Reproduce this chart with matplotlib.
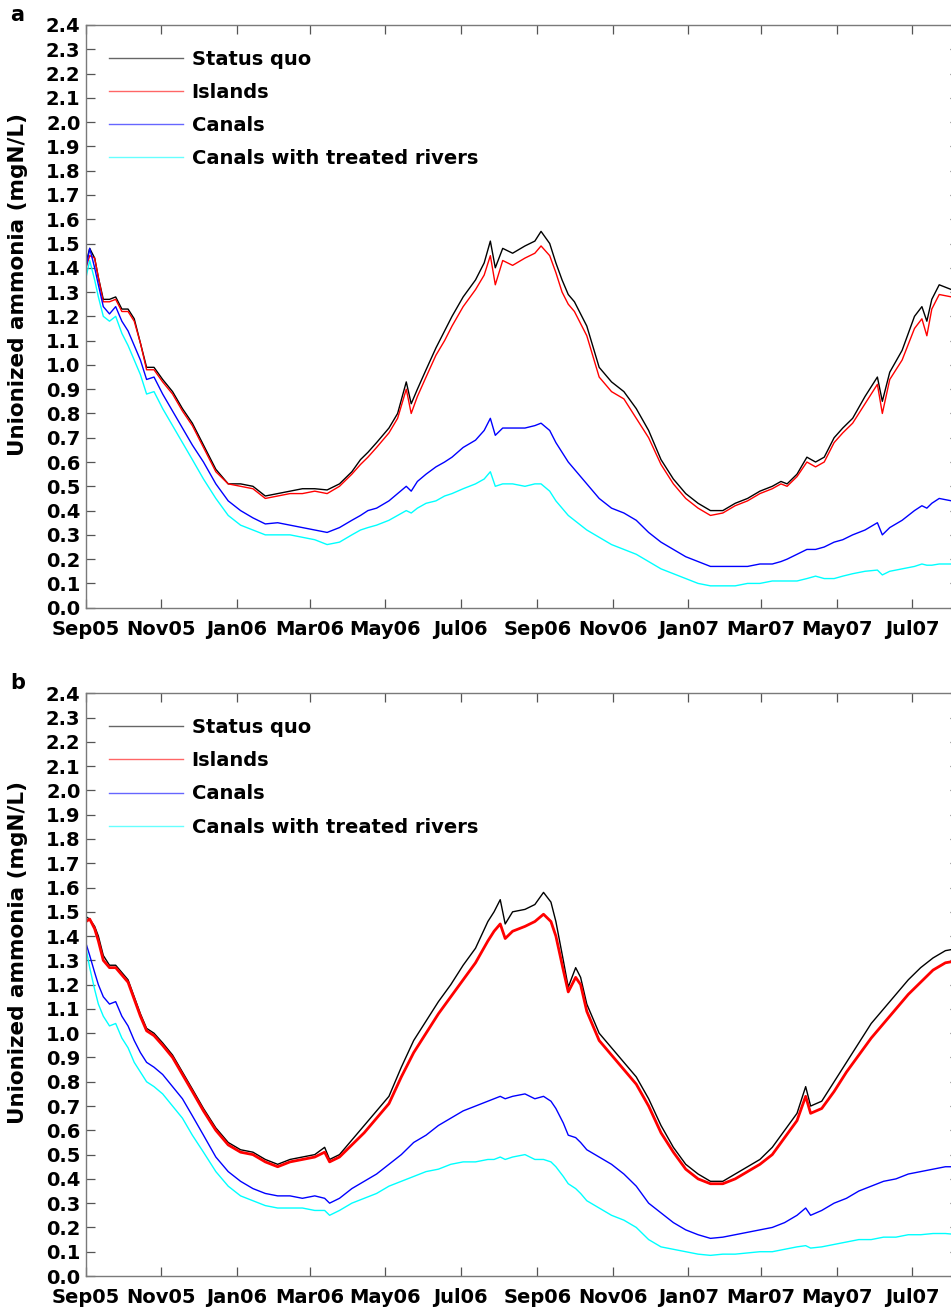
import datetime as dt
import matplotlib
matplotlib.use("Agg")
import matplotlib.pyplot as plt
import matplotlib.dates as mdates
from matplotlib.ticker import MultipleLocator, FormatStrFormatter

START = dt.date(2005, 9, 1)
END_DAY = 706

# panel a: days after 1 Sep 2005 and unionized ammonia (mgN/L)
days_a = [0, 3, 7, 10, 14, 19, 24, 29, 34, 39, 44, 49, 55, 62, 70, 78, 86, 95, 105, 115,
          125, 135, 145, 155, 165, 175, 185, 195, 205, 215, 222, 228, 235, 245, 252, 259, 263, 268, 275, 283,
          290, 296, 305, 315, 322, 327, 331, 337, 345, 355, 363, 368, 375, 380, 385, 390, 395, 405, 415, 425,
          435, 445, 455, 465, 475, 485, 495, 505, 515, 525, 535, 545, 555, 562, 567, 575, 583, 590, 597, 605,
          612, 620, 630, 640, 644, 650, 660, 670, 676, 680, 684, 690, 700, 706]
status_quo_a = [1.42, 1.48, 1.44, 1.36, 1.27, 1.27, 1.28, 1.23, 1.23, 1.19, 1.09, 0.99, 0.99, 0.94, 0.89, 0.82, 0.76, 0.67, 0.57, 0.51,
                0.51, 0.50, 0.46, 0.47, 0.48, 0.49, 0.49, 0.485, 0.51, 0.56, 0.61, 0.64, 0.68, 0.74, 0.80, 0.93, 0.84, 0.90, 0.98, 1.07,
                1.14, 1.20, 1.28, 1.35, 1.42, 1.51, 1.40, 1.48, 1.46, 1.49, 1.51, 1.55, 1.50, 1.42, 1.35, 1.29, 1.26, 1.16, 0.99, 0.93,
                0.89, 0.82, 0.73, 0.61, 0.53, 0.47, 0.43, 0.40, 0.40, 0.43, 0.45, 0.48, 0.50, 0.52, 0.51, 0.55, 0.62, 0.60, 0.62, 0.70,
                0.74, 0.78, 0.87, 0.95, 0.85, 0.97, 1.06, 1.20, 1.24, 1.18, 1.27, 1.33, 1.31, 1.30]
islands_a = [1.40, 1.45, 1.44, 1.36, 1.26, 1.26, 1.27, 1.22, 1.22, 1.18, 1.09, 0.98, 0.98, 0.93, 0.88, 0.81, 0.75, 0.66, 0.56, 0.51,
             0.50, 0.49, 0.45, 0.46, 0.47, 0.47, 0.48, 0.47, 0.50, 0.55, 0.59, 0.62, 0.66, 0.72, 0.78, 0.90, 0.80, 0.87, 0.95, 1.04,
             1.10, 1.16, 1.24, 1.31, 1.37, 1.45, 1.33, 1.43, 1.41, 1.44, 1.46, 1.49, 1.45, 1.38, 1.30, 1.25, 1.22, 1.12, 0.95, 0.89,
             0.86, 0.78, 0.70, 0.59, 0.51, 0.45, 0.41, 0.38, 0.39, 0.42, 0.44, 0.47, 0.49, 0.51, 0.50, 0.54, 0.60, 0.58, 0.60, 0.68,
             0.72, 0.76, 0.84, 0.92, 0.80, 0.94, 1.02, 1.15, 1.19, 1.12, 1.23, 1.29, 1.28, 1.27]
canals_a = [1.40, 1.48, 1.40, 1.33, 1.24, 1.21, 1.24, 1.18, 1.14, 1.08, 1.02, 0.94, 0.95, 0.88, 0.81, 0.74, 0.67, 0.60, 0.51, 0.44,
            0.40, 0.37, 0.345, 0.35, 0.34, 0.33, 0.32, 0.31, 0.33, 0.36, 0.38, 0.40, 0.41, 0.44, 0.47, 0.50, 0.48, 0.52, 0.55, 0.58,
            0.60, 0.62, 0.66, 0.69, 0.73, 0.78, 0.71, 0.74, 0.74, 0.74, 0.75, 0.76, 0.73, 0.68, 0.64, 0.60, 0.57, 0.51, 0.45, 0.41,
            0.39, 0.36, 0.31, 0.27, 0.24, 0.21, 0.19, 0.17, 0.17, 0.17, 0.17, 0.18, 0.18, 0.19, 0.20, 0.22, 0.24, 0.24, 0.25, 0.27,
            0.28, 0.30, 0.32, 0.35, 0.30, 0.33, 0.36, 0.40, 0.42, 0.41, 0.43, 0.45, 0.44, 0.44]
treated_a = [1.36, 1.43, 1.35, 1.28, 1.20, 1.18, 1.20, 1.13, 1.08, 1.02, 0.96, 0.88, 0.89, 0.82, 0.75, 0.68, 0.61, 0.53, 0.45, 0.38,
             0.34, 0.32, 0.30, 0.30, 0.30, 0.29, 0.28, 0.26, 0.27, 0.30, 0.32, 0.33, 0.34, 0.36, 0.38, 0.40, 0.39, 0.41, 0.43, 0.44,
             0.46, 0.47, 0.49, 0.51, 0.53, 0.56, 0.50, 0.51, 0.51, 0.50, 0.51, 0.51, 0.48, 0.44, 0.41, 0.38, 0.36, 0.32, 0.29, 0.26,
             0.24, 0.22, 0.19, 0.16, 0.14, 0.12, 0.10, 0.09, 0.09, 0.09, 0.10, 0.10, 0.11, 0.11, 0.11, 0.11, 0.12, 0.13, 0.12, 0.12,
             0.13, 0.14, 0.15, 0.155, 0.135, 0.15, 0.16, 0.17, 0.18, 0.175, 0.175, 0.18, 0.18, 0.18]

# panel b
days_b = [0, 3, 7, 10, 14, 19, 24, 29, 34, 39, 44, 49, 55, 62, 70, 78, 86, 95, 105, 115,
          125, 135, 145, 155, 165, 175, 185, 193, 197, 205, 215, 225, 235, 245, 255, 265, 275, 285, 295, 305,
          315, 325, 330, 335, 339, 345, 355, 363, 370, 376, 380, 386, 390, 396, 400, 405, 415, 425, 435, 445,
          455, 465, 475, 485, 495, 505, 515, 525, 535, 545, 555, 565, 575, 582, 586, 595, 605, 615, 625, 635,
          645, 655, 665, 675, 685, 695, 706]
status_quo_b = [1.48, 1.47, 1.44, 1.40, 1.32, 1.28, 1.28, 1.25, 1.22, 1.15, 1.08, 1.02, 1.00, 0.96, 0.91, 0.84, 0.77, 0.69, 0.61, 0.55,
                0.52, 0.51, 0.48, 0.46, 0.48, 0.49, 0.50, 0.53, 0.48, 0.50, 0.56, 0.62, 0.68, 0.74, 0.86, 0.97, 1.05, 1.13, 1.20, 1.28,
                1.35, 1.46, 1.50, 1.55, 1.45, 1.50, 1.51, 1.53, 1.58, 1.54, 1.46, 1.30, 1.19, 1.27, 1.23, 1.12, 1.00, 0.94, 0.88, 0.82,
                0.73, 0.62, 0.53, 0.46, 0.42, 0.39, 0.39, 0.42, 0.45, 0.48, 0.53, 0.60, 0.67, 0.78, 0.70, 0.72, 0.80, 0.88, 0.96, 1.04,
                1.10, 1.16, 1.22, 1.27, 1.31, 1.34, 1.35]
islands_b = [1.46, 1.47, 1.43, 1.38, 1.30, 1.27, 1.27, 1.24, 1.21, 1.14, 1.07, 1.01, 0.99, 0.95, 0.90, 0.83, 0.76, 0.68, 0.60, 0.54,
             0.51, 0.50, 0.47, 0.45, 0.47, 0.48, 0.49, 0.51, 0.47, 0.49, 0.54, 0.59, 0.65, 0.71, 0.82, 0.92, 1.00, 1.08, 1.15, 1.22,
             1.29, 1.38, 1.42, 1.45, 1.39, 1.42, 1.44, 1.46, 1.49, 1.46, 1.40, 1.26, 1.17, 1.23, 1.20, 1.09, 0.97, 0.91, 0.85, 0.79,
             0.70, 0.59, 0.51, 0.44, 0.40, 0.38, 0.38, 0.40, 0.43, 0.46, 0.50, 0.57, 0.64, 0.74, 0.67, 0.69, 0.76, 0.84, 0.91, 0.98,
             1.04, 1.10, 1.16, 1.21, 1.26, 1.29, 1.30]
canals_b = [1.37, 1.32, 1.25, 1.20, 1.15, 1.12, 1.13, 1.07, 1.03, 0.97, 0.92, 0.88, 0.86, 0.83, 0.78, 0.73, 0.66, 0.58, 0.49, 0.43,
            0.39, 0.36, 0.34, 0.33, 0.33, 0.32, 0.33, 0.32, 0.30, 0.32, 0.36, 0.39, 0.42, 0.46, 0.50, 0.55, 0.58, 0.62, 0.65, 0.68,
            0.70, 0.72, 0.73, 0.74, 0.73, 0.74, 0.75, 0.73, 0.74, 0.72, 0.69, 0.63, 0.58, 0.57, 0.55, 0.52, 0.49, 0.46, 0.42, 0.37,
            0.30, 0.26, 0.22, 0.19, 0.17, 0.155, 0.16, 0.17, 0.18, 0.19, 0.20, 0.22, 0.25, 0.28, 0.25, 0.27, 0.30, 0.32, 0.35, 0.37,
            0.39, 0.40, 0.42, 0.43, 0.44, 0.45, 0.45]
treated_b = [1.35, 1.27, 1.18, 1.12, 1.07, 1.03, 1.04, 0.98, 0.94, 0.88, 0.84, 0.80, 0.78, 0.75, 0.70, 0.65, 0.58, 0.51, 0.43, 0.37,
             0.33, 0.31, 0.29, 0.28, 0.28, 0.28, 0.27, 0.27, 0.25, 0.27, 0.30, 0.32, 0.34, 0.37, 0.39, 0.41, 0.43, 0.44, 0.46, 0.47,
             0.47, 0.48, 0.48, 0.49, 0.48, 0.49, 0.50, 0.48, 0.48, 0.47, 0.45, 0.41, 0.38, 0.36, 0.34, 0.31, 0.28, 0.25, 0.23, 0.20,
             0.15, 0.12, 0.11, 0.10, 0.09, 0.085, 0.09, 0.09, 0.095, 0.10, 0.10, 0.11, 0.12, 0.125, 0.115, 0.12, 0.13, 0.14, 0.15, 0.15,
             0.16, 0.16, 0.17, 0.17, 0.175, 0.175, 0.17]

labels = ["Status quo", "Islands", "Canals", "Canals with treated rivers"]
colors = ["black", "red", "blue", "cyan"]

plt.rcParams["font.family"] = ["DejaVu Sans"]
plt.rcParams["font.weight"] = "bold"

W, H = 951, 1314
fig = plt.figure(figsize=(W / 100, H / 100), dpi=100)

panels = [
    ("a", days_a, [status_quo_a, islands_a, canals_a, treated_a], [1.0, 1.0, 1.0, 1.0], 25.0, 607.7),
    ("b", days_b, [status_quo_b, islands_b, canals_b, treated_b], [1.0, 2.0, 1.0, 1.0], 693.3, 1276.0),
]

x0 = mdates.date2num(START)
for letter, days, series, widths, top_px, bot_px in panels:
    ax = fig.add_axes([86 / W, 1 - bot_px / H, (959 - 86) / W, (bot_px - top_px) / H])
    dates = [START + dt.timedelta(days=d) for d in days]
    for vals, lab, col, lw in zip(series, labels, colors, widths):
        ax.plot(dates, vals, color=col, lw=lw, label=lab)

    ax.set_xlim(x0, x0 + END_DAY)
    ax.set_ylim(0, 2.4)
    ax.xaxis.set_major_locator(mdates.MonthLocator(bymonth=[1, 3, 5, 7, 9, 11]))
    ax.xaxis.set_major_formatter(mdates.DateFormatter("%b%y"))
    ax.yaxis.set_major_locator(MultipleLocator(0.1))
    ax.yaxis.set_major_formatter(FormatStrFormatter("%.1f"))
    ax.tick_params(direction="in", length=6.5, width=0.9, color="#555555",
                   top=True, right=True, labelsize=14)
    ax.tick_params(axis="x", pad=8.5)
    ax.tick_params(axis="y", pad=4)
    for s in ax.spines.values():
        s.set_color("#7a7a7a")
        s.set_linewidth(1.0)
    ax.set_ylabel("Unionized ammonia (mgN/L)", fontsize=15.5, fontweight="bold")
    ax.yaxis.set_label_coords(-0.066, 0.555)

    leg = ax.legend(loc="upper left", bbox_to_anchor=(0.018, 0.971), frameon=False,
                    fontsize=14, handlelength=3.8, handletextpad=0.42,
                    labelspacing=0.73, borderaxespad=0)
    for h in leg.get_lines():
        h.set_linewidth(1.0)
        h.set_alpha(0.6)

    fig.text(10 / W, 1 - (top_px - 4) / H, letter, fontsize=15, fontweight="bold",
             ha="left", va="baseline")

fig.savefig("out.png", dpi=100)
